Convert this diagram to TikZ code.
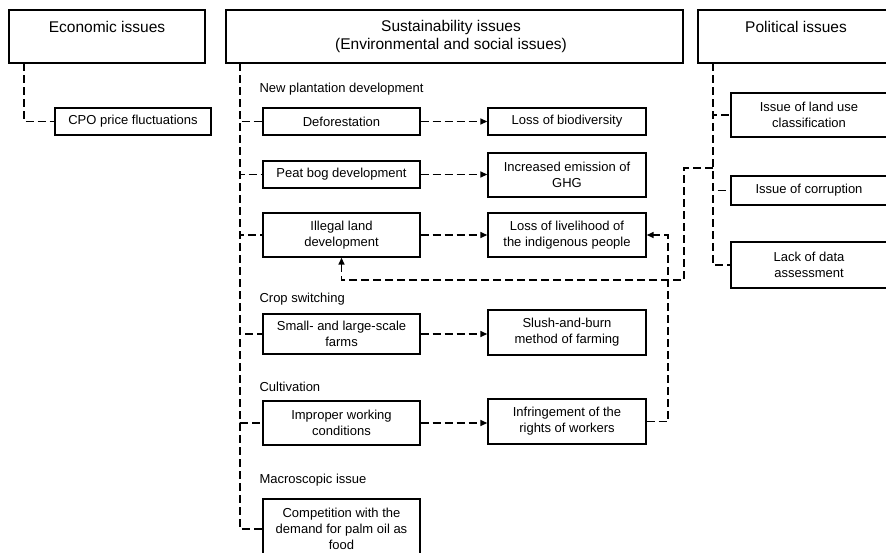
\documentclass[tikz,border=0pt]{standalone}
\usepackage{fontspec}
\setmainfont{Liberation Sans}
\usetikzlibrary{arrows.meta}

\tikzstyle{head}=[rectangle,draw,line width=2pt,minimum height=53pt]
\tikzstyle{headtext}=[font=\fontsize{15.5}{18}\selectfont,align=center]
\tikzstyle{box}=[rectangle,draw,line width=1.4pt,align=center,inner sep=2pt]
\tikzstyle{link}=[line width=1.5pt,dash pattern=on 8pt off 4pt]
\tikzstyle{arr}=[link,-{Triangle[length=7pt,width=6pt]}]

\begin{document}
\begin{tikzpicture}[x=1pt,y=-1pt,font=\fontsize{13}{16}\selectfont]
  \useasboundingbox (0,0) rectangle (886,552);
  \node[head,minimum width=196pt] (econ) at (107,36.5) {};
  \node[headtext] (econlbl) at (107,27) {Economic issues};
  \node[head,minimum width=457pt] (sust) at (454.5,36.5) {};
  \node[headtext] (sustlbl) at (451,36) {Sustainability issues\\(Environmental and social issues)};
  \node[head,minimum width=192pt] (pol) at (794,36.5) {};
  \node[headtext] (pollbl) at (796,27) {Political issues};

  \node[box,minimum width=156pt,minimum height=27pt] (cpo) at (133,121.5) {CPO price fluctuations};

  \node[anchor=west] (newplant) at (256,89) {New plantation development};
  \node[box,minimum width=157pt,minimum height=27pt] (defo) at (341.5,121.5) {Deforestation};
  \node[box,minimum width=157pt,minimum height=27pt] (peat) at (341.5,174.5) {Peat bog development};
  \node[box,minimum width=157pt,minimum height=44pt] (illegal) at (341.5,235) {Illegal land\\development};
  \node[anchor=west] (cropsw) at (256,299) {Crop switching};
  \node[box,minimum width=157pt,minimum height=40pt] (small) at (341.5,334) {Small- and large-scale\\farms};
  \node[anchor=west] (cultiv) at (256,387) {Cultivation};
  \node[box,minimum width=157pt,minimum height=44pt] (improper) at (341.5,423) {Improper working\\conditions};
  \node[anchor=west] (macro) at (256,480) {Macroscopic issue};
  \node[box,minimum width=157pt,minimum height=60pt] (compet) at (341.5,529) {Competition with the\\demand for palm oil as\\food};

  \node[box,minimum width=158pt,minimum height=27pt] (biodiv) at (567,121.5) {Loss of biodiversity};
  \node[box,minimum width=158pt,minimum height=44pt] (ghg) at (567,175) {Increased emission of\\GHG};
  \node[box,minimum width=158pt,minimum height=44pt] (livelihood) at (567,235) {Loss of livelihood of\\the indigenous people};
  \node[box,minimum width=158pt,minimum height=45pt] (slush) at (567,332.5) {Slush-and-burn\\method of farming};
  \node[box,minimum width=158pt,minimum height=45pt] (rights) at (567,421.5) {Infringement of the\\rights of workers};

  \node[box,minimum width=156pt,minimum height=44pt] (landuse) at (809,115) {Issue of land use\\classification};
  \node[box,minimum width=156pt,minimum height=29pt] (corrupt) at (809,190.5) {Issue of corruption};
  \node[box,minimum width=156pt,minimum height=46pt] (lackdata) at (809,265) {Lack of data\\assessment};

  \coordinate (espine) at (24,63);
  \coordinate (sspine) at (240,63);
  \coordinate (pspine) at (713,63);
  \coordinate (pjoin) at (713,168);
  \coordinate (pbend) at (684,280);
  \coordinate (rbend) at (668,235);

  \draw[link] (espine) |- (cpo.west);

  \draw[link] (sspine) |- (defo.west);
  \draw[link] (sspine) |- (peat.west);
  \draw[link] (sspine) |- (illegal.west);
  \draw[link] (sspine) |- (small.west);
  \draw[link] (sspine) |- (improper.west);
  \draw[link] (sspine) |- (compet.west);

  \draw[link] (pspine) |- (landuse.west);
  \draw[link] (pspine) |- (corrupt.west);
  \draw[link] (pspine) |- (lackdata.west);

  \draw[arr] (defo.east) -- (biodiv.west);
  \draw[arr] (peat.east) -- (peat.east -| ghg.west);
  \draw[arr] (illegal.east) -- (livelihood.west);
  \draw[arr] (small.east) -- (small.east -| slush.west);
  \draw[arr] (improper.east) -- (improper.east -| rights.west);

  \draw[arr] (pjoin) -| (pbend) -| (illegal.south);
  \draw[arr] (rights.east) -| (rbend) -- (livelihood.east);
\end{tikzpicture}
\end{document}
